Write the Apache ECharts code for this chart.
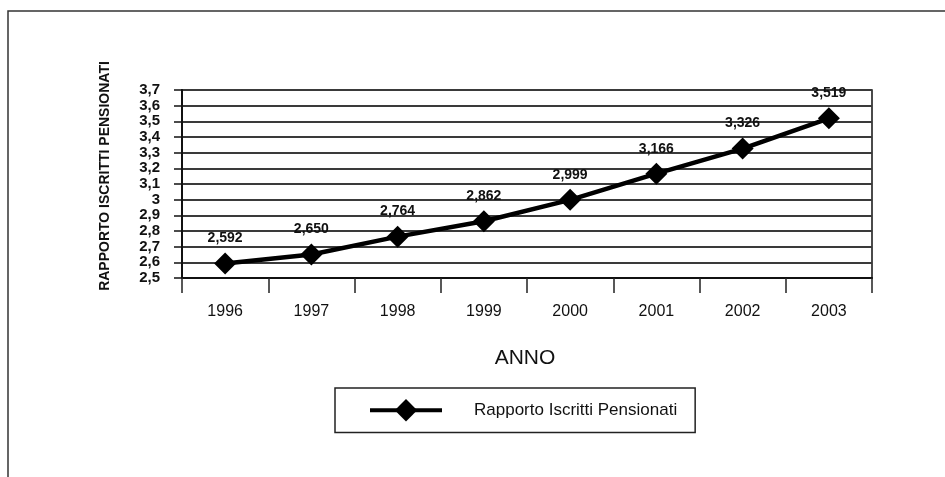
<!DOCTYPE html>
<html>
<head>
<meta charset="utf-8">
<script src="https://cdn.jsdelivr.net/npm/echarts@6/dist/echarts.min.js"></script>
<style>
html,body{margin:0;padding:0;background:#fff;}
#chart{width:945px;height:477px;}
</style>
</head>
<body>
<div id="chart"></div>
<script>
var categories = ['1996','1997','1998','1999','2000','2001','2002','2003'];
var seriesName = 'Rapporto Iscritti Pensionati';
var values = [2.592, 2.650, 2.764, 2.862, 2.999, 3.166, 3.326, 3.519];
var yMin = 2.5, yMax = 3.7, yStep = 0.1;
var yAxisTitle = 'RAPPORTO ISCRITTI PENSIONATI';
var xAxisTitle = 'ANNO';

function fmtTick(v){
  var r = Math.round(v*10)/10;
  return (Math.abs(r - Math.round(r)) < 1e-9 ? String(Math.round(r)) : r.toFixed(1)).replace('.', ',');
}
function fmtVal(v){ return v.toFixed(3).replace('.', ','); }

var chart = echarts.init(document.getElementById('chart'));
chart.setOption({
  animation: false,
  backgroundColor: '#fff',
  textStyle: { fontFamily: 'Liberation Sans, Arial, sans-serif' },
  grid: { left: 182, right: 73, top: 90, bottom: 199, show: true, borderColor: '#111', borderWidth: 1.5 },
  graphic: [
    { type: 'rect', shape: { x: 8, y: 11, width: 1000, height: 520 }, style: { fill: 'none', stroke: '#333', lineWidth: 1.5 }, silent: true },
    { type: 'text', x: 105, y: 176, rotation: Math.PI/2, style: { text: yAxisTitle, fill: '#111', font: 'bold 14px "Liberation Sans", Arial, sans-serif', align: 'center', verticalAlign: 'middle' } },
    { type: 'text', x: 525, y: 358, style: { text: xAxisTitle, fill: '#111', font: '21px "Liberation Sans", Arial, sans-serif', align: 'center', verticalAlign: 'middle' } }
  ],
  legend: {
    data: [seriesName],
    left: 335, top: 388,
    borderColor: '#222', borderWidth: 1.5,
    padding: [11, 18, 11, 33],
    itemWidth: 72, itemHeight: 28,
    lineStyle: { width: 4 },
    textStyle: { fontSize: 17, color: '#111', padding: [0, 0, 0, 27] }
  },
  xAxis: {
    type: 'category',
    data: categories,
    boundaryGap: true,
    axisLine: { lineStyle: { color: '#111', width: 2 } },
    axisTick: { show: true, length: 15, lineStyle: { color: '#222', width: 1.5 } },
    axisLabel: { fontSize: 16, color: '#111', margin: 26 },
    splitLine: { show: false }
  },
  yAxis: {
    type: 'value',
    min: yMin, max: yMax, interval: yStep,
    axisLine: { show: true, lineStyle: { color: '#111', width: 2 } },
    axisTick: { show: true, length: 8, lineStyle: { color: '#111', width: 1.5 } },
    axisLabel: { fontSize: 15, fontWeight: 'bold', color: '#111', margin: 22, hideOverlap: false, showMinLabel: true, showMaxLabel: true, formatter: fmtTick },
    splitLine: { show: true, lineStyle: { color: '#3a3a3a', width: 2 } }
  },
  series: [{
    name: seriesName,
    type: 'line',
    data: values,
    symbol: 'diamond',
    symbolSize: 22,
    lineStyle: { color: '#000', width: 4.5 },
    itemStyle: { color: '#000' },
    label: { show: true, position: 'top', distance: 7, fontSize: 14, fontWeight: 'bold', color: '#111', formatter: function(p){ return fmtVal(p.value); } }
  }]
});
</script>
</body>
</html>
